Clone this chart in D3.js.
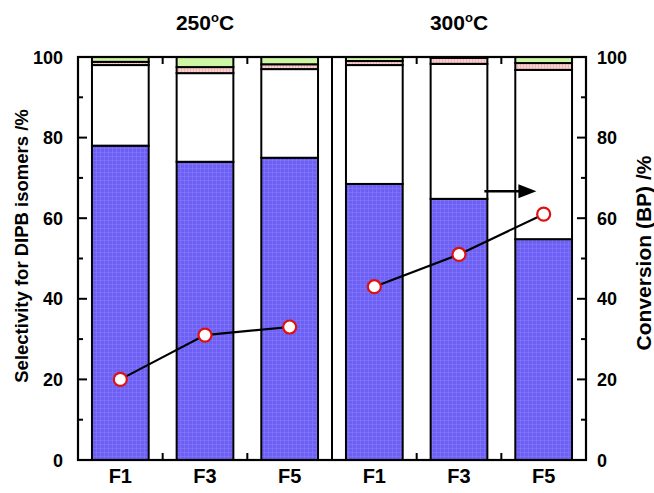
<!DOCTYPE html>
<meta charset="utf-8">
<script src="https://d3js.org/d3.v7.min.js"></script>
<style>
  body { margin: 0; background: #fff; }
  text { font-family: "Liberation Sans Narrow", "Arial Narrow", "Liberation Sans", Arial, sans-serif; font-weight: bold; }
</style>
<div id="chart"></div>
<script>
  // data
  var temps = ["250°C", "300°C"];
  var catalysts = ["F1", "F3", "F5"];
  var keys = ["4,4'-DIPB", "3,4'-DIPB", "3,3'-DIPB", "others"];
  // selectivities, order: 250 F1,F3,F5 then 300 F1,F3,F5
  var sel44 = [78, 74, 75, 68.5, 64.8, 54.8];
  var sel34 = [20, 22, 22, 29.5, 33.5, 42];
  var sel33 = [0.8, 1.5, 1.2, 1.0, 1.5, 1.7];
  var selOther = [1.2, 2.5, 1.8, 1.0, 0.2, 1.5];
  var conversion = [20, 31, 33, 43, 51, 61];
  var yTicks = [0, 20, 40, 60, 80, 100];

  var width = 654, height = 493;
  var margin = {top: 57, right: 68, bottom: 33, left: 78};

  var svg = d3.select("#chart").append("svg")
    .attr("width", width)
    .attr("height", height);

  var defs = svg.append("defs");
  // fine grid texture like the original print
  var pat = defs.append("pattern").attr("id", "blueGrid")
    .attr("width", 4).attr("height", 4).attr("patternUnits", "userSpaceOnUse");
  pat.append("rect").attr("width", 4).attr("height", 4).attr("fill", "#6c5ff4");
  pat.append("path").attr("d", "M0,0.5H4M0.5,0V4").attr("stroke", "#8679f6").attr("stroke-width", 0.6);
  var pink = defs.append("pattern").attr("id", "pinkStripe")
    .attr("width", 3).attr("height", 3).attr("patternUnits", "userSpaceOnUse");
  pink.append("rect").attr("width", 3).attr("height", 3).attr("fill", "#f8cfcf");
  pink.append("path").attr("d", "M1.5,0V3").attr("stroke", "#eeb0b0").attr("stroke-width", 0.8);

  var fills = {"4,4'-DIPB": "url(#blueGrid)", "3,4'-DIPB": "#ffffff",
               "3,3'-DIPB": "url(#pinkStripe)", "others": "#ccf5a4"};

  // build rows for the stack
  var rows = [];
  temps.forEach(function(t, ti) {
    catalysts.forEach(function(c, ci) {
      var i = ti * 3 + ci;
      var r = {temp: t, cat: c, conv: conversion[i]};
      r[keys[0]] = sel44[i];
      r[keys[1]] = sel34[i];
      r[keys[2]] = sel33[i];
      r[keys[3]] = selOther[i];
      rows.push(r);
    });
  });

  var x0 = d3.scaleBand().domain(temps)
    .range([margin.left, width - margin.right]);
  var x1 = d3.scaleBand().domain(catalysts)
    .range([0, x0.bandwidth()])
    .paddingInner(0.33).paddingOuter(0.165);
  var y = d3.scaleLinear().domain([0, 100]).range([height - margin.bottom, margin.top]);

  var stacked = d3.stack().keys(keys)(rows);

  // bars
  svg.append("g").selectAll("g")
    .data(stacked)
    .enter().append("g")
      .attr("fill", function(d) { return fills[d.key]; })
    .selectAll("rect")
    .data(function(d) { return d; })
    .enter().append("rect")
      .attr("x", function(d) { return x0(d.data.temp) + x1(d.data.cat); })
      .attr("y", function(d) { return y(d[1]); })
      .attr("height", function(d) { return y(d[0]) - y(d[1]); })
      .attr("width", x1.bandwidth())
      .attr("stroke", "#000")
      .attr("stroke-width", 2);

  // panel frames, divider and ticks
  var frame = svg.append("g");
  frame.append("rect")
    .attr("x", margin.left).attr("y", y(100))
    .attr("width", width - margin.left - margin.right)
    .attr("height", y(0) - y(100))
    .attr("fill", "none").attr("stroke", "#000").attr("stroke-width", 2.2);
  frame.append("line")
    .attr("x1", x0(temps[1])).attr("x2", x0(temps[1]))
    .attr("y1", y(100)).attr("y2", y(0))
    .attr("stroke", "#000").attr("stroke-width", 2);

  // band boundary ticks top and bottom
  temps.forEach(function(t) {
    [1, 2].forEach(function(k) {
      var bx = x0(t) + (x1(catalysts[k]) + x1(catalysts[k - 1]) + x1.bandwidth()) / 2;
      frame.append("line").attr("x1", bx).attr("x2", bx)
        .attr("y1", y(0)).attr("y2", y(0) - 7)
        .attr("stroke", "#000").attr("stroke-width", 2);
      frame.append("line").attr("x1", bx).attr("x2", bx)
        .attr("y1", y(100)).attr("y2", y(100) + 7)
        .attr("stroke", "#000").attr("stroke-width", 2);
    });
  });

  // y axes, ticks inward
  var minor = d3.range(10, 100, 20);
  var xl = margin.left, xr = width - margin.right;
  yTicks.forEach(function(v) {
    frame.append("line").attr("x1", xl).attr("x2", xl + 9)
      .attr("y1", y(v)).attr("y2", y(v)).attr("stroke", "#000").attr("stroke-width", 2);
    frame.append("line").attr("x1", xr).attr("x2", xr - 9)
      .attr("y1", y(v)).attr("y2", y(v)).attr("stroke", "#000").attr("stroke-width", 2);
    svg.append("text").attr("x", xl - 15).attr("y", y(v) + 6.5)
      .attr("text-anchor", "end").style("font-size", "18px").text(v);
    svg.append("text").attr("x", xr + 11).attr("y", y(v) + 6.5)
      .attr("text-anchor", "start").style("font-size", "18px").text(v);
  });
  minor.forEach(function(v) {
    frame.append("line").attr("x1", xl).attr("x2", xl + 5)
      .attr("y1", y(v)).attr("y2", y(v)).attr("stroke", "#000").attr("stroke-width", 2);
    frame.append("line").attr("x1", xr).attr("x2", xr - 5)
      .attr("y1", y(v)).attr("y2", y(v)).attr("stroke", "#000").attr("stroke-width", 2);
  });

  // x labels
  rows.forEach(function(r) {
    svg.append("text")
      .attr("x", x0(r.temp) + x1(r.cat) + x1.bandwidth() / 2)
      .attr("y", height - 10)
      .attr("text-anchor", "middle").style("font-size", "20px")
      .text(r.cat);
  });

  // panel titles
  temps.forEach(function(t) {
    var tx = svg.append("text")
      .attr("x", x0(t) + x0.bandwidth() / 2)
      .attr("y", 30)
      .attr("text-anchor", "middle").style("font-size", "21px");
    tx.append("tspan").text(t.replace("°C", ""));
    tx.append("tspan").attr("dy", -8).style("font-size", "13px").text("o");
    tx.append("tspan").attr("dy", 8).text("C");
  });

  // axis titles
  svg.append("text")
    .attr("transform", "translate(28,246) rotate(-90)")
    .attr("text-anchor", "middle").style("font-size", "18.5px")
    .text("Selectivity for DIPB isomers /%");
  svg.append("text")
    .attr("transform", "translate(651,253) rotate(-90)")
    .attr("text-anchor", "middle").style("font-size", "21px")
    .text("Conversion (BP) /%");

  // conversion lines, one per temperature
  var line = d3.line()
    .x(function(d) { return x0(d.temp) + x1(d.cat) + x1.bandwidth() / 2; })
    .y(function(d) { return y(d.conv); });
  temps.forEach(function(t) {
    svg.append("path")
      .datum(rows.filter(function(r) { return r.temp === t; }))
      .attr("d", line)
      .attr("fill", "none").attr("stroke", "#000").attr("stroke-width", 2.2);
  });
  svg.append("g").selectAll("circle")
    .data(rows).enter().append("circle")
      .attr("cx", function(d) { return x0(d.temp) + x1(d.cat) + x1.bandwidth() / 2; })
      .attr("cy", function(d) { return y(d.conv); })
      .attr("r", 6.5)
      .attr("fill", "#fff").attr("stroke", "#dd1111").attr("stroke-width", 2.2);

  // arrow pointing to the right axis
  var arrowY = y(66.7);
  var ax1 = x0(temps[1]) + x1("F3") + x1.bandwidth() - 3;
  var ax2 = ax1 + 52;
  svg.append("line").attr("x1", ax1).attr("x2", ax2 - 16)
    .attr("y1", arrowY).attr("y2", arrowY)
    .attr("stroke", "#000").attr("stroke-width", 2.5);
  svg.append("path")
    .attr("d", "M" + (ax2 - 18) + "," + (arrowY - 7) + "L" + ax2 + "," + arrowY + "L" + (ax2 - 18) + "," + (arrowY + 7) + "Z")
    .attr("fill", "#000");
</script>
